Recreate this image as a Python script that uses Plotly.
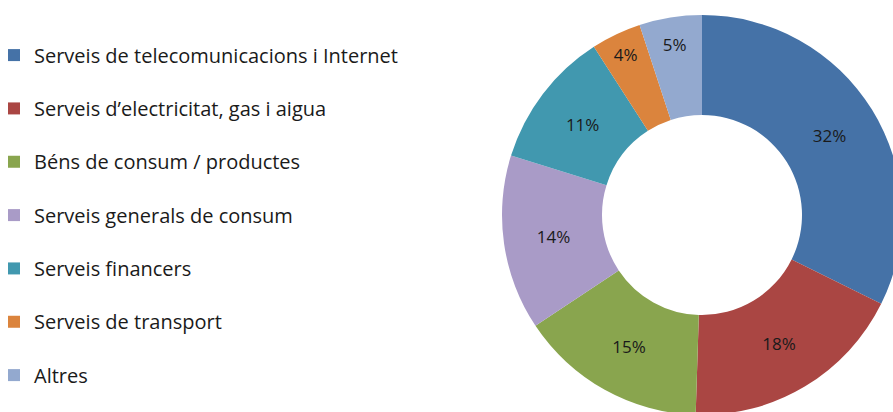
import plotly.graph_objects as go

categories = [
    "Serveis de telecomunicacions i Internet",
    "Serveis d\u2019electricitat, gas i aigua",
    "Béns de consum / productes",
    "Serveis generals de consum",
    "Serveis financers",
    "Serveis de transport",
    "Altres",
]
values = [32, 18, 15, 14, 11, 4, 5]
colors = ["#4572A7", "#AA4643", "#89A54E", "#A99BC7", "#4198AF", "#DB843D", "#93A9CF"]

DX = 6  # page shifted left by this many px
W, H = 916, 420

legend_labels = [f"<span style='font-size:20px'>{c}</span><br>&nbsp;" for c in categories]

fig = go.Figure(
    go.Pie(
        labels=legend_labels,
        values=values,
        hole=0.5,
        sort=False,
        direction="clockwise",
        rotation=0,
        marker=dict(colors=colors, line=dict(width=0)),
        texttemplate="%{value}%",
        textposition="inside",
        insidetextorientation="horizontal",
        textfont=dict(family="Open Sans", size=17, color="#1a1a1a"),
        domain=dict(x=[(502 + DX) / W, (902 + DX) / W], y=[(H - 415) / H, (H - 15) / H]),
        hoverinfo="none",
    )
)

fig.update_layout(
    width=W,
    height=H,
    margin=dict(l=0, r=0, t=0, b=0),
    paper_bgcolor="white",
    plot_bgcolor="white",
    showlegend=True,
    legend=dict(
        x=0,
        xanchor="left",
        y=1 - 40 / H,
        yanchor="top",
        valign="top",
        font=dict(family="Open Sans", size=19.36, color="#1a1a1a"),
        bgcolor="rgba(0,0,0,0)",
        borderwidth=0,
    ),
)

fig.write_html(
    "out.html",
    config={"displayModeBar": False},
    post_script=(
        "document.body.style.margin='0';"
        f"document.body.style.marginLeft='-{DX}px';"
        "document.body.style.overflow='hidden';"
    ),
)
